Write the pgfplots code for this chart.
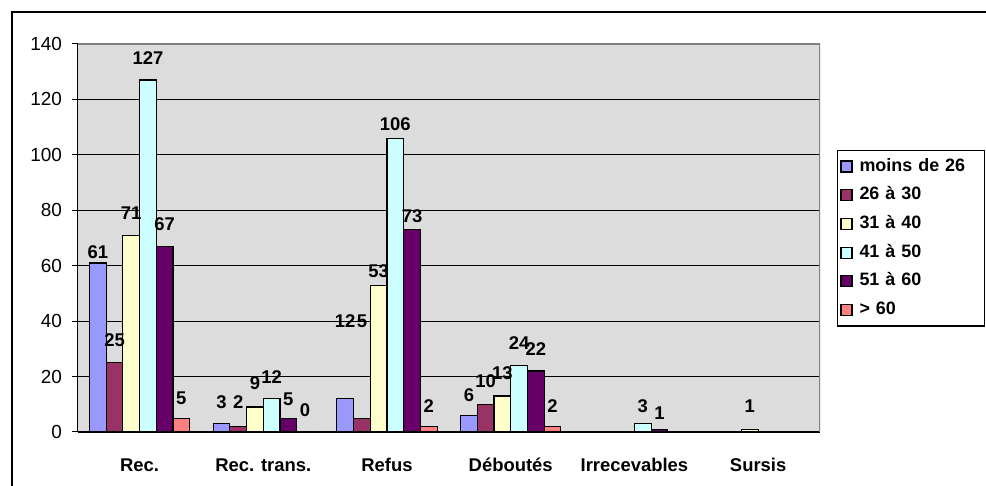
\documentclass[border=0pt]{standalone}
\usepackage{fontspec}
\setmainfont{Liberation Sans}
\usepackage{pgfplots}
\usepackage{pgfplotstable}
\pgfplotsset{compat=1.18}
\definecolor{cA}{HTML}{9999FF}
\definecolor{cB}{HTML}{993366}
\definecolor{cC}{HTML}{FFFFCC}
\definecolor{cD}{HTML}{CCFFFF}
\definecolor{cE}{HTML}{660066}
\definecolor{cF}{HTML}{FF8080}
\definecolor{plotgray}{HTML}{DCDCDC}
\definecolor{bordergray}{HTML}{808080}
% x = category index, y = value, s = label gap above bar (bp)
\pgfplotstableread{
x y s
0 61 4
1 3 14
2 12 71
3 6 13
}\tA
\pgfplotstableread{
x y s
0 25 15
1 2 17
2 5 90
3 10 16
}\tB
\pgfplotstableread{
x y s
0 71 15
1 9 17
2 53 7
3 13 16
5 1 16
}\tC
\pgfplotstableread{
x y s
0 127 15
1 12 15
2 106 7
3 24 15
4 3 10
}\tD
\pgfplotstableread{
x y s
0 67 15
1 5 12
2 73 6
3 22 15
4 1 9
}\tE
\pgfplotstableread{
x y s
0 5 13
1 0 15
2 2 13
3 2 13
}\tF
\begin{document}
\begin{tikzpicture}[x=1bp,y=1bp]
\useasboundingbox (0,0) rectangle (986,486);
\draw[line width=1.3bp] (12,-10) -- (12,474) -- (1000,474);
\begin{axis}[
  at={(77.7bp,54bp)}, anchor=south west,
  scale only axis, width=742.3bp, height=388bp,
  xmin=-0.5, xmax=5.5, ymin=0, ymax=140,
  ybar=0pt, bar width=16.7bp,
  axis lines*=left,
  axis line style={black, line width=1bp},
  axis background/.style={fill=plotgray},
  ymajorgrids, grid style={black, line width=0.8bp},
  ytick={0,20,...,140},
  xtick={0,...,5},
  xticklabels={Rec.,Rec. trans.,Refus,Déboutés,Irrecevables,Sursis},
  x tick style={draw=none},
  extra x ticks={-0.5,0.5,1.5,2.5,3.5,4.5,5.5}, extra x tick labels={},
  extra x tick style={grid=none, tick style={draw=black, line width=1bp}},
  y tick style={black, line width=1bp},
  major tick length=6bp, tick align=outside,
  /pgf/number format/assume math mode=true,
  yticklabel style={font=\fontsize{19}{19}\selectfont, inner sep=0pt, xshift=-9.5bp},
  xticklabel style={font=\bfseries\fontsize{18.5}{18.5}\selectfont, text height=13bp, text depth=3.5bp, inner sep=0pt, yshift=-20bp},
  nodes near coords,
  visualization depends on={\thisrow{s} \as \lblshift},
  every node near coord/.append style={font=\bfseries\fontsize{18.5}{18.5}\selectfont, inner sep=0pt, anchor=south, yshift=\lblshift bp, black},
  every axis plot/.append style={draw=black, line width=1.2bp},
  legend style={at={(1.0225,0.7268)}, anchor=north west, draw=black, line width=1.2bp, fill=white,
    font=\bfseries\fontsize{18}{18}\selectfont, row sep=8.7bp, column sep=5bp, inner xsep=3bp, inner ysep=6bp,
    nodes={inner sep=2bp, text height=12.5bp, text depth=3.5bp, text width=120bp}},
  legend cell align=left,
  legend image code/.code={\draw[#1, draw=black, line width=1.2bp] (0bp,-5.5bp) rectangle (11bp,5.5bp);},
]
\addplot[fill=cA] table[x=x,y=y] {\tA};
\addplot[fill=cB] table[x=x,y=y] {\tB};
\addplot[fill=cC] table[x=x,y=y] {\tC};
\addplot[fill=cD] table[x=x,y=y] {\tD};
\addplot[fill=cE] table[x=x,y=y] {\tE};
\addplot[fill=cF] table[x=x,y=y] {\tF};
\legend{moins de 26, 26 à 30, 31 à 40, 41 à 50, 51 à 60, > 60}
\draw[bordergray, line width=1.3bp] (rel axis cs:0,1) -- (rel axis cs:1,1) -- (rel axis cs:1,0);
\end{axis}
\end{tikzpicture}
\end{document}
